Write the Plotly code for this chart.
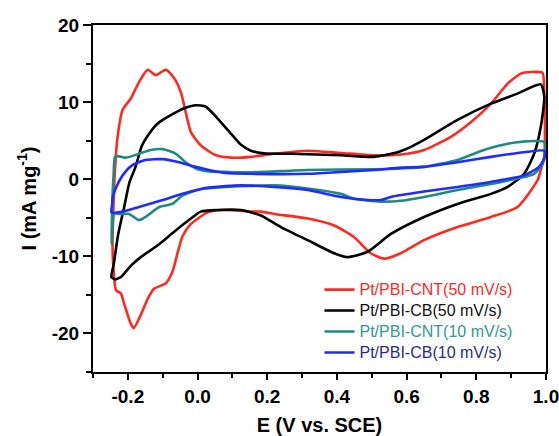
import plotly.graph_objects as go

# ---- data (E in V vs. SCE, I in mA mg^-1) ----
cnt50_E = [-0.244, -0.241, -0.237, -0.230, -0.215, -0.191, -0.168, -0.143, -0.120, -0.091,
           -0.067, -0.048, -0.034, -0.019, 0.009, 0.053, 0.096, 0.153, 0.220, 0.316,
           0.411, 0.507, 0.583, 0.650, 0.727, 0.784, 0.842, 0.890, 0.928, 0.956,
           0.990, 0.995, 0.997, 0.995, 0.985, 0.976, 0.918, 0.842, 0.746, 0.650,
           0.583, 0.535, 0.497, 0.449, 0.392, 0.316, 0.220, 0.182, 0.153, 0.076,
           0.029, -0.019, -0.043, -0.057, -0.072, -0.091, -0.125, -0.143, -0.163, -0.183,
           -0.191, -0.211, -0.220, -0.234, -0.241, -0.244]
cnt50_I = [-8.4, -3.2, 1.2, 5.3, 9.0, 10.5, 12.6, 14.2, 13.5, 14.2,
           13.1, 11.3, 8.7, 6.1, 4.4, 3.1, 2.8, 2.9, 3.3, 3.7,
           3.4, 3.1, 3.2, 3.8, 5.5, 7.4, 9.8, 12.4, 13.7, 13.9,
           13.8, 11.1, 6.8, 2.9, 1.2, -0.1, -3.6, -4.9, -6.2, -7.9,
           -9.6, -10.3, -9.6, -7.5, -6.0, -5.1, -4.5, -4.2, -4.2, -4.0,
           -4.3, -5.8, -7.4, -9.5, -12.0, -13.5, -14.2, -15.5, -17.6, -19.3,
           -18.8, -16.1, -14.8, -14.4, -11.8, -8.4]

cb50_E = [-0.247, -0.240, -0.228, -0.210, -0.196, -0.178, -0.160, -0.139, -0.115, -0.077,
          -0.038, -0.005, 0.024, 0.057, 0.096, 0.124, 0.153, 0.190, 0.268, 0.411,
          0.507, 0.574, 0.603, 0.650, 0.746, 0.842, 0.918, 0.985, 0.995, 0.985,
          0.966, 0.937, 0.890, 0.842, 0.746, 0.650, 0.555, 0.488, 0.430, 0.392,
          0.316, 0.239, 0.205, 0.182, 0.124, 0.057, 0.009, -0.019, -0.067, -0.115,
          -0.163, -0.191, -0.220, -0.230, -0.235, -0.247]
cb50_I = [-12.7, -10.9, -7.2, -3.5, -0.5, 1.6, 4.3, 5.9, 7.2, 8.3,
          9.2, 9.6, 9.4, 7.9, 5.9, 4.5, 3.7, 3.35, 3.3, 3.1,
          2.9, 3.5, 4.0, 5.1, 7.7, 9.8, 11.1, 12.3, 10.7, 6.8,
          3.3, 0.7, -1.0, -1.9, -3.2, -4.9, -7.1, -9.4, -10.1, -9.6,
          -7.9, -6.2, -5.3, -4.7, -4.0, -4.0, -4.2, -5.1, -6.8, -8.6,
          -10.1, -11.2, -12.7, -12.9, -13.0, -12.7]

cnt10_E = [-0.247, -0.246, -0.244, -0.241, -0.237, -0.230, -0.205, -0.168, -0.134, -0.100,
           -0.062, -0.034, -0.005, 0.033, 0.081, 0.153, 0.316, 0.507, 0.583, 0.650,
           0.746, 0.822, 0.870, 0.918, 0.995, 0.997, 0.990, 0.966, 0.918, 0.842,
           0.746, 0.650, 0.583, 0.526, 0.449, 0.411, 0.316, 0.220, 0.124, 0.081,
           0.009, -0.043, -0.072, -0.110, -0.143, -0.168, -0.197, -0.225, -0.239, -0.247]
cnt10_I = [-8.4, -6.0, -2.1, 0.5, 2.9, 3.0, 2.8, 3.3, 3.8, 3.9,
           3.3, 2.2, 1.4, 1.0, 0.95, 0.9, 1.2, 1.3, 1.4, 1.6,
           2.5, 3.8, 4.4, 4.8, 4.8, 3.3, 2.0, 0.7, 0.1, -0.6,
           -1.4, -2.3, -2.8, -2.9, -2.5, -1.9, -1.2, -0.8, -0.9, -1.0,
           -1.3, -2.1, -3.2, -3.6, -4.7, -5.3, -4.5, -4.5, -4.5, -8.4]

cb10_E = [-0.247, -0.245, -0.244, -0.235, -0.215, -0.188, -0.149, -0.100, -0.053, -0.005,
          0.033, 0.081, 0.153, 0.316, 0.411, 0.507, 0.583, 0.650, 0.746, 0.842,
          0.937, 0.995, 0.997, 0.980, 0.937, 0.842, 0.746, 0.650, 0.555, 0.526,
          0.488, 0.411, 0.316, 0.220, 0.124, 0.081, 0.015, -0.043, -0.100, -0.168,
          -0.215, -0.247]
cb10_I = [-4.3, -3.3, -2.5, -1.2, 0.5, 1.8, 2.5, 2.6, 2.2, 1.6,
          1.2, 0.8, 0.7, 0.7, 0.95, 1.2, 1.5, 1.6, 2.2, 2.9,
          3.5, 3.7, 2.9, 1.6, 0.5, -0.35, -1.0, -1.6, -2.3, -2.7,
          -2.7, -2.3, -1.4, -1.0, -0.8, -0.9, -1.2, -1.9, -2.7, -3.6,
          -4.2, -4.3]

series_names = ["Pt/PBI-CNT(50 mV/s)", "Pt/PBI-CB(50 mV/s)",
                "Pt/PBI-CNT(10 mV/s)", "Pt/PBI-CB(10 mV/s)"]
line_colors = ["#ff2a1f", "#000000", "#1e8a80", "#1f2cff"]
text_colors = ["#ff2a1f", "#111111", "#2f9a8e", "#2a2a8c"]

x_tickvals = [-0.2, 0.0, 0.2, 0.4, 0.6, 0.8, 1.0]
x_ticktext = ["-0.2", "0.0", "0.2", "0.4", "0.6", "0.8", "1.0"]
y_tickvals = [-20, -10, 0, 10, 20]
y_ticktext = ["-20", "-10", "0", "10", "20"]

FONT = "Arial, 'Liberation Sans', sans-serif"

fig = go.Figure()
xs = [cnt50_E, cb50_E, cnt10_E, cb10_E]
ys = [cnt50_I, cb50_I, cnt10_I, cb10_I]
for x, y, nm, lc, tc in zip(xs, ys, series_names, line_colors, text_colors):
    fig.add_trace(go.Scatter(
        x=x, y=y, mode="lines",
        line=dict(color=lc, width=2.6, shape="spline", smoothing=0.6),
        name=f"<span style='color:{tc};font-size:16px'>{nm}</span>",
    ))

axis_common = dict(
    showline=True, linecolor="black", linewidth=2, mirror=True,
    showgrid=False, zeroline=False, ticks="outside", tickcolor="black",
    tickwidth=2, ticklabeloverflow="allow",
)

fig.update_xaxes(
    range=[-0.3, 1.0], tickvals=x_tickvals, ticktext=x_ticktext,
    ticklen=6,
    minor=dict(dtick=0.1, tick0=0, ticks="outside", ticklen=4, tickwidth=2, tickcolor="black"),
    tickfont=dict(family=FONT, size=19, color="black", weight="bold"),
    title=dict(text="<b>E (V vs. SCE)</b>", font=dict(family=FONT, size=20, color="black"),
               standoff=14),
    **axis_common,
)
fig.update_yaxes(
    range=[-25, 20], tickvals=y_tickvals, ticktext=y_ticktext,
    ticklen=8,
    minor=dict(dtick=5, tick0=0, ticks="outside", ticklen=5, tickwidth=2, tickcolor="black"),
    tickfont=dict(family=FONT, size=19, color="black", weight="bold"),
    title=dict(text="<b>I (mA mg<sup>-1</sup>)</b>", font=dict(family=FONT, size=20, color="black"),
               standoff=10),
    **axis_common,
)

fig.update_layout(
    width=559, height=436,
    margin=dict(l=93, r=13, t=25, b=64, autoexpand=False),
    paper_bgcolor="white", plot_bgcolor="white",
    showlegend=True,
    legend=dict(x=0.50, y=0.282, xanchor="left", yanchor="top",
                bgcolor="rgba(0,0,0,0)", borderwidth=0,
                font=dict(family=FONT, size=13.8), tracegroupgap=0),
    font=dict(family=FONT),
)

fig.write_html("out.html",
               config={"displayModeBar": False},
               post_script="document.body.style.margin='0';document.body.style.padding='0';")
